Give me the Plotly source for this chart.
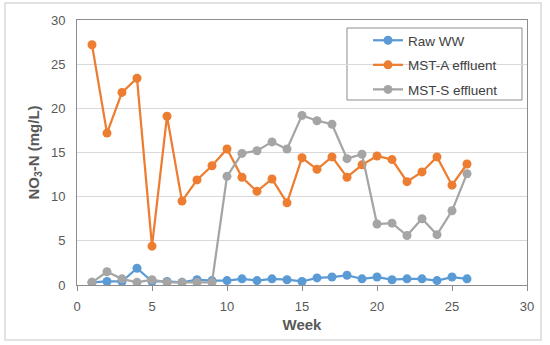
import plotly.graph_objects as go

weeks = list(range(1, 27))
raw_ww = [0.3, 0.4, 0.4, 1.9, 0.4, 0.4, 0.3, 0.6, 0.5, 0.5, 0.7, 0.5, 0.7,
          0.6, 0.4, 0.8, 0.9, 1.1, 0.7, 0.9, 0.6, 0.7, 0.7, 0.5, 0.9, 0.7]
mst_a = [27.2, 17.2, 21.8, 23.4, 4.4, 19.1, 9.5, 11.9, 13.5, 15.4, 12.2, 10.6, 12.0,
         9.3, 14.4, 13.1, 14.5, 12.2, 13.6, 14.6, 14.2, 11.7, 12.8, 14.5, 11.3, 13.7]
mst_s = [0.3, 1.5, 0.7, 0.3, 0.6, 0.3, 0.3, 0.3, 0.3, 12.3, 14.9, 15.2, 16.2,
         15.4, 19.2, 18.6, 18.2, 14.3, 14.8, 6.9, 7.0, 5.6, 7.5, 5.7, 8.4, 12.6]

series = [("Raw WW", raw_ww, "#5B9BD5"),
          ("MST-A effluent", mst_a, "#ED7D31"),
          ("MST-S effluent", mst_s, "#A5A5A5")]

fig = go.Figure()
for i, (name, vals, col) in enumerate(series):
    fig.add_trace(go.Scatter(x=weeks, y=vals, name=name, mode="lines+markers",
                             line=dict(color=col, width=2.25),
                             marker=dict(color=col, size=9),
                             legendgroup=str(i)))

W, H = 550, 345
L, R, T, B = 77, 23, 20, 60
pw, ph = W - L - R, H - T - B

def px(x):
    return (x - L) / pw

def py(y):
    return (H - B - y) / ph

fig.update_layout(
    width=W, height=H,
    margin=dict(l=L, r=R, t=T, b=B, autoexpand=False),
    paper_bgcolor="white", plot_bgcolor="white",
    font=dict(family="Liberation Sans, Arial, sans-serif", size=13, color="#595959"),
    showlegend=True,
    legend=dict(x=px(368), y=py(25), xanchor="left", yanchor="top",
                bgcolor="rgba(0,0,0,0)", borderwidth=0,
                font=dict(size=13.5, color="#404040"),
                tracegroupgap=4, traceorder="grouped"),
    xaxis=dict(range=[0, 30], dtick=5, showgrid=False, zeroline=False, automargin=False,
               showline=True, mirror=True, linecolor="#8C8C8C", linewidth=1,
               ticks="outside", ticklen=5, tickcolor="#8C8C8C", ticklabelstandoff=4,
               title=dict(text="<b>Week</b>", font=dict(size=15, color="#595959"), standoff=6)),
    yaxis=dict(range=[0, 30], dtick=5, showgrid=True, gridcolor="#D9D9D9", automargin=False,
               zeroline=False, showline=True, mirror=True, linecolor="#8C8C8C", linewidth=1,
               ticks="", ticklabelstandoff=8,
               title=dict(text="<b>NO<sub>3</sub>-N (mg/L)</b>", font=dict(size=15, color="#595959"), standoff=7)),
    shapes=[
        dict(type="rect", xref="paper", yref="paper",
             x0=px(5), x1=px(541), y0=py(340), y1=py(3),
             line=dict(color="#D9D9D9", width=1.5), layer="below"),
        dict(type="rect", xref="paper", yref="paper",
             x0=px(347), x1=px(522), y0=py(100), y1=py(28),
             line=dict(color="#8C8C8C", width=1), fillcolor="white", layer="below"),
    ],
)

fig.write_html("out.html", config={"displayModeBar": False},
               post_script="document.body.style.margin='0px';")
